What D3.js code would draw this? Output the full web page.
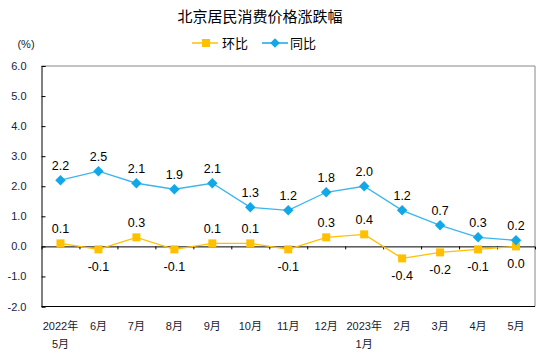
<!DOCTYPE html>
<html><head><meta charset="utf-8">
<script src="https://cdn.jsdelivr.net/npm/d3@7"></script>
<style>body{margin:0;background:#fff}svg{display:block}</style>
</head><body>
<script>
const categories = ["2022年|5月","6月","7月","8月","9月","10月","11月","12月","2023年|1月","2月","3月","4月","5月"];
const yoy = [2.2,2.5,2.1,1.9,2.1,1.3,1.2,1.8,2.0,1.2,0.7,0.3,0.2];
const mom = [0.1,-0.1,0.3,-0.1,0.1,0.1,-0.1,0.3,0.4,-0.4,-0.2,-0.1,0.0];
const yTicks = [-2,-1,0,1,2,3,4,5,6];

const W=550,H=356;
const m={l:41.5,t:66,r:535,b:306.5};
const svg=d3.select("body").append("svg").attr("width",W).attr("height",H);
const x=d3.scaleBand().domain(d3.range(categories.length)).range([m.l,m.r]).padding(0);
const y=d3.scaleLinear().domain([-2,6]).range([m.b,m.t]);
const cx=i=>x(i)+x.bandwidth()/2;
const axisFont="'Liberation Sans','Noto Sans CJK SC',Arial,sans-serif";
const cjk="'Noto Sans CJK SC',sans-serif";
const lblFont="'Liberation Sans',Arial,sans-serif";
const blue="#12A8E8", blueLine="#3BB6EC", gold="#FFC000";
const loc=d3.formatLocale({decimal:".",thousands:",",grouping:[3],currency:["",""],minus:"-"});
const fmt=loc.format(".1f");

// title
svg.append("text").attr("x",260).attr("y",22).attr("text-anchor","middle")
  .style("font-family",cjk).style("font-size","15px").attr("fill","#000").text("北京居民消费价格涨跌幅");
svg.append("text").attr("x",26).attr("y",48).attr("text-anchor","middle")
  .style("font-family",lblFont).style("font-size","11px").attr("fill","#222").text("(%)");

// legend
const lg=svg.append("g");
lg.append("line").attr("x1",192).attr("x2",218).attr("y1",43).attr("y2",43).attr("stroke",gold).attr("stroke-width",1.5);
lg.append("rect").attr("x",202).attr("y",39).attr("width",8).attr("height",8).attr("fill",gold);
lg.append("text").attr("x",222).attr("y",48).style("font-family",cjk).style("font-size","13px").text("环比");
lg.append("line").attr("x1",262).attr("x2",288).attr("y1",43).attr("y2",43).attr("stroke",blue).attr("stroke-width",1.5);
lg.append("path").attr("d",d3.symbol(d3.symbolDiamond2,60)()).attr("transform","translate(275,43)").attr("fill",blue);
lg.append("text").attr("x",290).attr("y",48).style("font-family",cjk).style("font-size","13px").text("同比");

// frame
svg.append("line").attr("x1",m.l).attr("x2",m.r).attr("y1",m.t).attr("y2",m.t).attr("stroke","#888");
svg.append("line").attr("x1",m.r).attr("x2",m.r).attr("y1",m.t).attr("y2",m.b).attr("stroke","#888");
svg.append("line").attr("x1",m.l).attr("x2",m.r).attr("y1",m.b).attr("y2",m.b).attr("stroke","#000");

// y axis
const ya=svg.append("g").attr("transform",`translate(${m.l},0)`)
  .call(d3.axisRight(y).tickValues(yTicks).tickSize(4).tickFormat(fmt));
ya.select(".domain").attr("stroke","#000");
ya.selectAll(".tick line").attr("stroke","#000");
ya.selectAll(".tick text").attr("x",-15).attr("text-anchor","end")
  .style("font-family",axisFont).style("font-size","11px").attr("fill","#1a1a40");

// zero axis with category ticks
const xa=svg.append("g").attr("transform",`translate(0,${y(0)})`)
  .call(d3.axisBottom(d3.scaleLinear().domain([0,categories.length]).range([m.l,m.r]))
    .tickValues(d3.range(1,categories.length)).tickSize(3).tickFormat(""));
xa.select(".domain").attr("stroke","#000");
xa.selectAll(".tick line").attr("stroke","#000");

// x labels
categories.forEach((c,i)=>{
  const parts=c.split("|");
  const t=svg.append("text").attr("x",cx(i)).attr("y",330).attr("text-anchor","middle")
    .style("font-family",axisFont).style("font-size","11px").attr("fill","#1a1a2a");
  parts.forEach((p,j)=>t.append("tspan").attr("x",cx(i)).attr("dy",j?18:0).text(p));
});

// lines
const line=d3.line().x((d,i)=>cx(i)).y(d=>y(d));
svg.append("path").datum(mom).attr("d",line).attr("fill","none").attr("stroke",gold).attr("stroke-width",1.3);
svg.append("path").datum(yoy).attr("d",line).attr("fill","none").attr("stroke",blueLine).attr("stroke-width",1.3);

svg.selectAll(".sq").data(mom).enter().append("rect")
  .attr("x",(d,i)=>cx(i)-4).attr("y",d=>y(d)-4).attr("width",8).attr("height",8).attr("fill",gold);
svg.selectAll(".dm").data(yoy).enter().append("path")
  .attr("d",d3.symbol(d3.symbolDiamond2,70)()).attr("transform",(d,i)=>`translate(${cx(i)},${y(d)})`).attr("fill",blue);

// data labels
svg.selectAll(".ly").data(yoy).enter().append("text")
  .attr("x",(d,i)=>cx(i)).attr("y",d=>y(d)-10).attr("text-anchor","middle")
  .style("font-family",lblFont).style("font-size","12.5px").attr("fill","#000").text(fmt);
svg.selectAll(".lm").data(mom).enter().append("text")
  .attr("x",(d,i)=>cx(i)).attr("y",d=>d>0?y(d)-10:y(d)+22).attr("text-anchor","middle")
  .style("font-family",lblFont).style("font-size","12.5px").attr("fill","#000").text(fmt);
</script>
</body></html>
